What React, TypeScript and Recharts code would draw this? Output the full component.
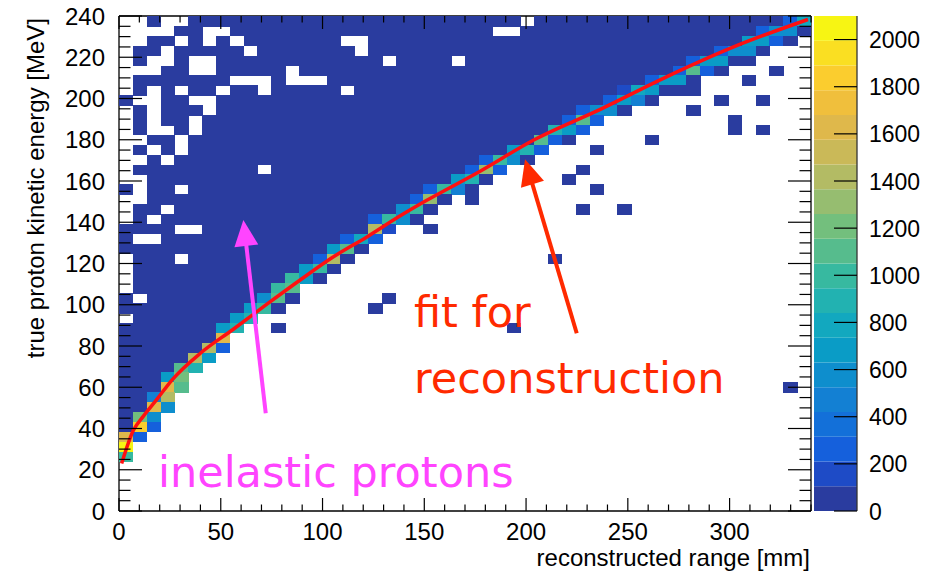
import React from 'react';
import { ScatterChart, Scatter, XAxis, YAxis, ReferenceLine, ReferenceArea } from 'recharts';

const WIDTH = 927;
const HEIGHT = 575;
// axes take 1px each, so plot area is x 119-811, y 16-511
const MARGIN = { top: 15, right: 115, bottom: 63, left: 118 };
const OVERLAY_MARGIN = { top: 16, right: 116, bottom: 64, left: 119 };
const BAR_MARGIN = { top: 16, right: 69, bottom: 64, left: 814 };
const PLOT_W = 692;
const PLOT_H = 495;

const FONT = '"Liberation Sans", Arial, Helvetica, sans-serif';
const ANNOT_FONT = '"DejaVu Sans", sans-serif';

// histogram binning: 50 x 50 bins over 0-340 mm / 0-240 MeV
const X_MAX = 340;
const Y_MAX = 240;
const N_X = 50;
const N_Y = 50;

const X_TICKS = [0, 10, 20, 30, 40, 50, 60, 70, 80, 90, 100, 110, 120, 130, 140, 150, 160, 170, 180, 190, 200,
  210, 220, 230, 240, 250, 260, 270, 280, 290, 300, 310, 320, 330, 340];
const Y_TICKS = [0, 5, 10, 15, 20, 25, 30, 35, 40, 45, 50, 55, 60, 65, 70, 75, 80, 85, 90, 95, 100, 105, 110,
  115, 120, 125, 130, 135, 140, 145, 150, 155, 160, 165, 170, 175, 180, 185, 190, 195, 200, 205, 210, 215, 220,
  225, 230, 235, 240];
const Z_TICKS = [0, 200, 400, 600, 800, 1000, 1200, 1400, 1600, 1800, 2000];
const Z_LEVELS = [0, 105, 210, 315, 420, 525, 630, 735, 840, 945, 1050, 1155, 1260, 1365, 1470, 1575, 1680,
  1785, 1890, 1995, 2100];

const PALETTE = [
  '#2a3c9f', '#1e4bc6', '#1560dc', '#1370d9', '#1380d3', '#0e8ecd', '#0a9cc6', '#12a8bf', '#22b2b1', '#37b9a0',
  '#56bc8d', '#73bf7d', '#96bd70', '#b3bb64', '#cab958', '#dfb84b', '#f0bf3c', '#fbcd2e', '#fadf22', '#f7f513',
];

// one string per energy bin, top (235-240 MeV) to bottom (0-4.8 MeV)
// '.' = empty bin, 0-9 a-j = colour level, c{n} = c repeated n times
const ROWS = [
  '..0..0{24}.0{18}27',
  '....00..0{19}..0{17}2550',
  '..00.0.0.0{7}..0{27}6620.',
  '.00.00000.0{7}.0{25}2550...',
  '.0..0..0{12}.0000.0{16}26600....',
  '...00..00000.0{27}2a20...0..',
  '.0{7}...0...0{23}2660...0....',
  '.0.0.00.00.00000.0{19}176000.{8}',
  '0..00..0{28}2640....0..0...',
  '.0.000.0{26}2550....0.{8}',
  '.0.00.0{26}2a2.{9}0.....',
  '.0..0.0{25}862.{10}0.0...',
  '..00.0{25}a20.....0.{11}',
  '.0.0.0{23}682...0.{15}',
  '..0.0{22}2950.{20}',
  '.0{9}.0{14}2c2.....0.{16}',
  '..0{22}680.....0.{17}',
  '0.00.0{17}2940.{8}0.{15}',
  '..0{19}2c0.0.{24}',
  '.00.0{16}590.{10}0..0.{13}',
  '.0.0{15}2950.{28}',
  '0000..0{12}d1..0.{27}',
  '0..00{12}272.{31}',
  '0{15}6a0.{32}',
  '.000.0{9}2d0.{14}0.{18}',
  '.0{12}690.{34}',
  '.0{11}960.{35}',
  '.0{10}9a.{37}',
  '0.0{8}5a0......0.{30}',
  '0{9}690......0.{31}',
  '.0{7}68.{40}',
  '0{7}68..0.{16}0.{21}',
  '0{7}f.{42}',
  '0{6}d2.{42}',
  '0{5}d6.{43}',
  '0{4}a8.{44}',
  '0006b.{45}',
  '000fa.{43}0.',
  '004d.{46}',
  '00f5.{46}',
  '0b5.{47}',
  '0h2.{47}',
  'f2.{48}',
  'j.{49}',
  '9.{49}',
  '.{50}',
  '.{50}',
  '.{50}',
  '.{50}',
  '.{50}',
];

// fit for reconstruction
const FIT_R = [1.3, 7, 12, 18.5, 26, 40, 56, 73, 89, 105, 122, 138, 151, 177, 204, 237, 269, 302, 338.5];
const FIT_E = [23, 39, 46, 54, 63.5, 76.5, 88, 100.5, 112, 123, 133, 143, 150.5, 164.5, 180, 195, 210.5, 225, 238.3];

const INELASTIC_ARROW = [{ x: 72.1, y: 47.4 }, { x: 61.1, y: 141.1 }];
const FIT_ARROW = [{ x: 224.9, y: 86.2 }, { x: 199.5, y: 170.5 }];

const LEVEL_CHARS = '0123456789abcdefghij';
const expand = (s: string) => s.replace(/(.)\{(\d+)\}/g, (_m, c, n) => c.repeat(Number(n)));

const cells: { x: number; y: number; lvl: number }[] = [];
ROWS.forEach((row, r) => {
  const line = expand(row);
  const j = N_Y - 1 - r;
  for (let i = 0; i < line.length; i++) {
    const lvl = LEVEL_CHARS.indexOf(line[i]);
    if (lvl < 0) continue;
    cells.push({ x: ((i + 0.5) * X_MAX) / N_X, y: ((j + 0.5) * Y_MAX) / N_Y, lvl });
  }
});

const fitData = FIT_R.map((r, i) => ({ x: r, y: FIT_E[i] }));

const CELL_W = PLOT_W / N_X;
const CELL_H = PLOT_H / N_Y;

const CellShape = (p: any) => (
  <rect
    x={p.cx - CELL_W / 2}
    y={p.cy - CELL_H / 2}
    width={CELL_W + 0.6}
    height={CELL_H + 0.6}
    fill={PALETTE[p.payload.lvl]}
    shapeRendering="crispEdges"
  />
);

const BottomTick = (p: any) => {
  const v = p.payload.value;
  const major = v % 50 === 0;
  return (
    <g>
      <line x1={p.x} y1={p.y} x2={p.x} y2={p.y - (major ? 13 : 6.5)} stroke="#000" strokeWidth={1.2} />
      {major && (
        <text x={p.x} y={p.y + 29} textAnchor="middle" fontSize={24} fontFamily={FONT} fill="#000">
          {v}
        </text>
      )}
    </g>
  );
};

const TopTick = (p: any) => {
  const major = p.payload.value % 50 === 0;
  return <line x1={p.x} y1={p.y} x2={p.x} y2={p.y + (major ? 13 : 6.5)} stroke="#000" strokeWidth={1.2} />;
};

const LeftTick = (p: any) => {
  const v = p.payload.value;
  const major = v % 20 === 0;
  return (
    <g>
      <line x1={p.x} y1={p.y} x2={p.x + (major ? 23 : 11.5)} y2={p.y} stroke="#000" strokeWidth={1.2} />
      {major && (
        <text x={p.x - 14} y={p.y + 8.5} textAnchor="end" fontSize={24} fontFamily={FONT} fill="#000">
          {v}
        </text>
      )}
    </g>
  );
};

const RightTick = (p: any) => {
  const major = p.payload.value % 20 === 0;
  return <line x1={p.x} y1={p.y} x2={p.x - (major ? 23 : 11.5)} y2={p.y} stroke="#000" strokeWidth={1.2} />;
};

const BarTick = (p: any) => (
  <g>
    <line x1={p.x} y1={p.y} x2={p.x - 23} y2={p.y} stroke="#000" strokeWidth={1.2} />
    <text x={p.x + 12} y={p.y + 8.5} textAnchor="start" fontSize={23} fontFamily={FONT} fill="#000">
      {p.payload.value}
    </text>
  </g>
);

const arrowShape = (color: string) => (p: any) => {
  const { x1, y1, x2, y2 } = p;
  const dx = x2 - x1;
  const dy = y2 - y1;
  const len = Math.hypot(dx, dy);
  const ux = dx / len;
  const uy = dy / len;
  const hl = 26;
  const hw = 12;
  const bx = x2 - ux * hl;
  const by = y2 - uy * hl;
  const pts = `${x2},${y2} ${bx - uy * hw},${by + ux * hw} ${bx + uy * hw},${by - ux * hw}`;
  return (
    <g>
      <line x1={x1} y1={y1} x2={bx + ux * 3} y2={by + uy * 3} stroke={color} strokeWidth={4} />
      <polygon points={pts} fill={color} />
    </g>
  );
};

const emptyShape = () => <g />;

const axisLine = { stroke: '#000', strokeWidth: 1.3 };

export default function App() {
  return (
    <div style={{ position: 'absolute', left: 0, top: 0, width: WIDTH, height: HEIGHT, background: '#fff' }}>
      <div style={{ position: 'absolute', left: 0, top: 0 }}>
        <ScatterChart width={WIDTH} height={HEIGHT} margin={MARGIN}>
          <Scatter data={cells} shape={CellShape} isAnimationActive={false} />
          <Scatter
            data={fitData}
            fill="#ff1010"
            line={{ stroke: '#ff1010', strokeWidth: 3.5 }}
            lineJointType="monotoneX"
            shape={emptyShape}
            isAnimationActive={false}
          />
          <XAxis
            type="number"
            dataKey="x"
            domain={[0, X_MAX]}
            ticks={X_TICKS}
            interval={0}
            height={1}
            tickSize={0}
            tickMargin={0}
            tickLine={false}
            tick={BottomTick}
            axisLine={axisLine}
            allowDataOverflow
          />
          <XAxis
            xAxisId="top"
            orientation="top"
            type="number"
            dataKey="x"
            domain={[0, X_MAX]}
            ticks={X_TICKS}
            interval={0}
            height={1}
            tickSize={0}
            tickMargin={0}
            tickLine={false}
            tick={TopTick}
            axisLine={axisLine}
            allowDataOverflow
          />
          <YAxis
            type="number"
            dataKey="y"
            domain={[0, Y_MAX]}
            ticks={Y_TICKS}
            interval={0}
            width={1}
            tickSize={0}
            tickMargin={0}
            tickLine={false}
            tick={LeftTick}
            axisLine={axisLine}
            allowDataOverflow
          />
          <YAxis
            yAxisId="right"
            orientation="right"
            type="number"
            dataKey="y"
            domain={[0, Y_MAX]}
            ticks={Y_TICKS}
            interval={0}
            width={1}
            tickSize={0}
            tickMargin={0}
            tickLine={false}
            tick={RightTick}
            axisLine={axisLine}
            allowDataOverflow
          />
        </ScatterChart>
      </div>
      <div style={{ position: 'absolute', left: 0, top: 0 }}>
        <ScatterChart width={WIDTH} height={HEIGHT} margin={BAR_MARGIN}>
          {Z_LEVELS.slice(0, -1).map((lo, k) => (
            <ReferenceArea
              key={k}
              x1={0}
              x2={1}
              y1={lo}
              y2={Z_LEVELS[k + 1]}
              fill={PALETTE[k]}
              fillOpacity={1}
              stroke="none"
              ifOverflow="visible"
            />
          ))}
          <Scatter data={[{ x: 0.5, y: 0 }]} shape={emptyShape} isAnimationActive={false} />
          <XAxis type="number" dataKey="x" domain={[0, 1]} hide />
          <YAxis
            orientation="right"
            type="number"
            dataKey="y"
            domain={[0, 2100]}
            ticks={Z_TICKS}
            interval={0}
            width={1}
            tickSize={0}
            tickMargin={0}
            tickLine={false}
            tick={BarTick}
            axisLine={{ stroke: '#333', strokeWidth: 1.3 }}
            allowDataOverflow
          />
        </ScatterChart>
      </div>
      <div style={{ position: 'absolute', left: 0, top: 0, pointerEvents: 'none' }}>
        <ScatterChart width={WIDTH} height={HEIGHT} margin={OVERLAY_MARGIN}>
          <Scatter data={[{ x: 0, y: 0 }]} shape={emptyShape} isAnimationActive={false} />
          <XAxis type="number" dataKey="x" domain={[0, X_MAX]} hide allowDataOverflow />
          <YAxis type="number" dataKey="y" domain={[0, Y_MAX]} hide allowDataOverflow />
          <ReferenceLine segment={INELASTIC_ARROW} shape={arrowShape('#ff44ff')} ifOverflow="visible" />
          <ReferenceLine segment={FIT_ARROW} shape={arrowShape('#ff2a00')} ifOverflow="visible" />
        </ScatterChart>
      </div>
      <svg width={WIDTH} height={HEIGHT} style={{ position: 'absolute', left: 0, top: 0, pointerEvents: 'none' }}>
        <text x={810} y={566} textAnchor="end" fontSize={24} fontFamily={FONT} fill="#000">
          reconstructed range [mm]
        </text>
        <text x={44} y={18} transform="rotate(-90, 44, 18)" textAnchor="end" fontSize={24} fontFamily={FONT} fill="#000">
          true proton kinetic energy [MeV]
        </text>
        <text x={158} y={487} fontSize={43} fontFamily={ANNOT_FONT} fill="#ff44ff">
          inelastic protons
        </text>
        <text x={414} y={327} fontSize={43} fontFamily={ANNOT_FONT} fill="#ff2a00">
          fit for
        </text>
        <text x={414} y={393} fontSize={43} fontFamily={ANNOT_FONT} fill="#ff2a00">
          reconstruction
        </text>
      </svg>
    </div>
  );
}
